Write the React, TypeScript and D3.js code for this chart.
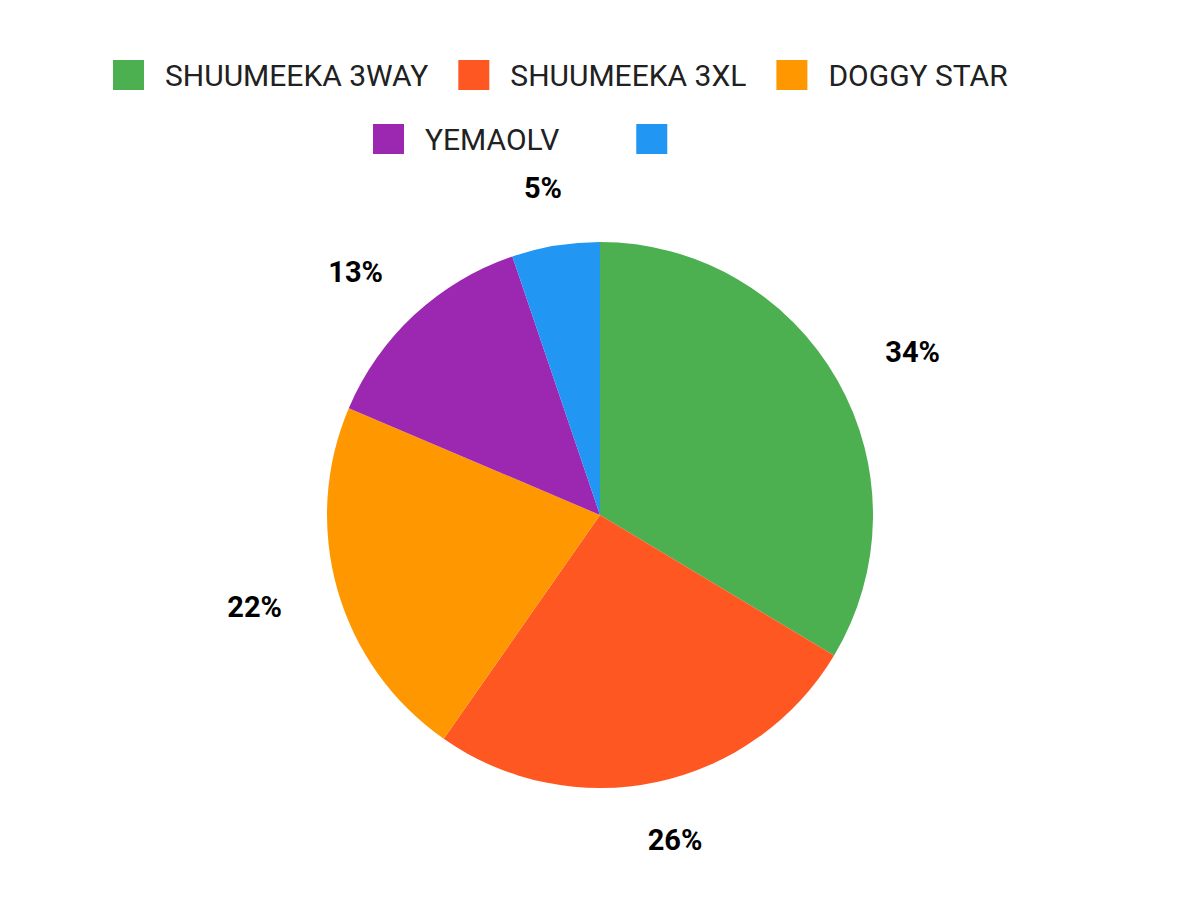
import React, { useEffect, useRef } from "react";
import * as d3 from "d3";

const categories = ["SHUUMEEKA 3WAY", "SHUUMEEKA 3XL", "DOGGY STAR", "YEMAOLV", ""];
const values = [33.6, 26.1, 21.7, 13.4, 5.2];
const colors = ["#4CAF50", "#FF5722", "#FF9800", "#9C27B0", "#2196F3"];

const legendRows = [[0, 1, 2], [3, 4]];
const rowStartX = [113, 373];
const rowGap = [30, 77];

const W = 1200;
const H = 900;

export default function App() {
  const ref = useRef<SVGSVGElement>(null);

  useEffect(() => {
    const svg = d3.select(ref.current);
    svg.selectAll("*").remove();

    const cx = 600;
    const cy = 515;
    const radius = 273;

    // legend
    const legend = svg.append("g").attr("font-family", "Roboto, sans-serif");
    legendRows.forEach((row, ri) => {
      let x = rowStartX[ri];
      const y = 60 + ri * 64;
      row.forEach((i) => {
        legend.append("rect")
          .attr("x", x).attr("y", y)
          .attr("width", 31).attr("height", 30)
          .attr("fill", colors[i]);
        const t = legend.append("text")
          .attr("x", x + 52).attr("y", y + 15 + 10.7)
          .attr("font-size", 30)
          .attr("fill", "#212121")
          .text(categories[i]);
        const tw = (t.node() as SVGTextElement).getComputedTextLength();
        x += 52 + tw + rowGap[ri];
      });
    });

    // pie
    const pie = d3.pie<number>().sort(null).value((d) => d);
    const arcs = pie(values);
    const arc = d3.arc<d3.PieArcDatum<number>>().innerRadius(0).outerRadius(radius);

    const g = svg.append("g").attr("transform", `translate(${cx}, ${cy})`);
    g.selectAll("path")
      .data(arcs)
      .enter()
      .append("path")
      .attr("d", arc as any)
      .attr("fill", (_d, i) => colors[i]);

    // percentage labels
    const total = d3.sum(values);
    const labelR = 332;
    const fs = 29;
    arcs.forEach((a) => {
      const mid = (a.startAngle + a.endAngle) / 2;
      const ux = Math.sin(mid);
      const uy = -Math.cos(mid);
      const t = g.append("text")
        .attr("font-family", "Roboto, sans-serif")
        .attr("font-weight", "bold")
        .attr("font-size", fs)
        .attr("fill", "#000")
        .attr("text-anchor", "middle")
        .text(`${Math.round((a.data / total) * 100)}%`);
      const tw = (t.node() as SVGTextElement).getComputedTextLength();
      const lx = ux * (labelR + tw / 2);
      const ly = uy * labelR;
      t.attr("x", lx).attr("y", ly + fs * 0.711 / 2);
    });
  }, []);

  return (
    <svg ref={ref} width={W} height={H} style={{ display: "block", margin: -8, background: "#fff" }} />
  );
}
